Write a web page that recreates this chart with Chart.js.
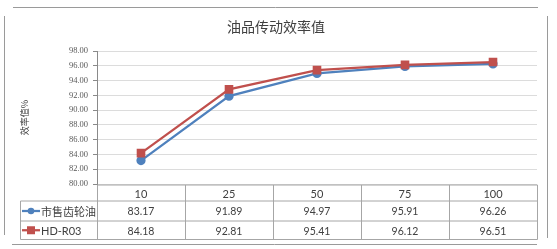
<!DOCTYPE html>
<html>
<head>
<meta charset="utf-8">
<script src="https://cdn.jsdelivr.net/npm/chart.js@4/dist/chart.umd.min.js"></script>
<style>
  html, body { margin: 0; padding: 0; background: #fff; }
  canvas { display: block; }
</style>
</head>
<body>
<canvas id="effChart" width="557" height="249"></canvas>
<script>
// chart data
var categories = ["10", "25", "50", "75", "100"];
var marketOil = [83.17, 91.89, 94.97, 95.91, 96.26];
var hdR03 = [84.18, 92.81, 95.41, 96.12, 96.51];
var seriesNames = ["市售齿轮油", "HD-R03"];
var titleText = "油品传动效率值";
var yTitle = "效率值%";

var blue = "#4F81BD";
var red = "#C0504D";
var cjk = "'Noto Sans CJK SC', 'Noto Sans', sans-serif";
var latin = "Lato, 'Open Sans', sans-serif";

// draws the frame, title and the data table under the plot
var tablePlugin = {
  id: "dataTable",
  afterDraw: function (chart) {
    var c = chart.ctx;
    var area = chart.chartArea;
    var xs = chart.scales.x;
    var colW = (area.right - area.left) / categories.length;
    var rows = [area.bottom + 1, 201, 221, 239.5];
    var legendLeft = 20.5;

    c.save();
    // outer frame pieces
    c.strokeStyle = "#9a9a9a";
    c.lineWidth = 1;
    c.beginPath();
    c.moveTo(13, 7.5); c.lineTo(538, 7.5);
    c.moveTo(4.5, 16); c.lineTo(4.5, 235);
    c.moveTo(547.5, 16); c.lineTo(547.5, 238);
    c.moveTo(12, 244.5); c.lineTo(537, 244.5);
    c.stroke();

    // title
    c.fillStyle = "#404040";
    c.font = "14px " + cjk;
    c.textAlign = "center";
    c.textBaseline = "middle";
    c.fillText(titleText, 276, 27);

    // table grid
    c.strokeStyle = "#a6a6a6";
    c.beginPath();
    c.moveTo(area.left + 0.5, rows[0]); c.lineTo(area.right + 0.5, rows[0]);
    for (var r = 1; r < rows.length; r++) {
      c.moveTo(legendLeft, rows[r]); c.lineTo(area.right + 0.5, rows[r]);
    }
    c.moveTo(legendLeft, rows[1]); c.lineTo(legendLeft, rows[3]);
    for (var k = 0; k <= categories.length; k++) {
      var gx = Math.round(area.left + k * colW) + 0.5;
      c.moveTo(gx, rows[0]); c.lineTo(gx, rows[3]);
    }
    c.stroke();

    // category labels and values
    c.fillStyle = "#404040";
    c.textAlign = "center";
    var series = [marketOil, hdR03];
    for (var i = 0; i < categories.length; i++) {
      var cx = xs.getPixelForValue(i);
      c.font = "11px " + latin;
      c.fillText(categories[i], cx, (rows[0] + rows[1]) / 2 + 1);
      c.font = "10.5px " + latin;
      for (var s = 0; s < series.length; s++) {
        c.fillText(series[s][i].toFixed(2), cx, (rows[s + 1] + rows[s + 2]) / 2 + 1);
      }
    }

    // legend keys in row headers
    var colors = [blue, red];
    for (var j = 0; j < 2; j++) {
      var cy = (rows[j + 1] + rows[j + 2]) / 2;
      c.strokeStyle = colors[j];
      c.fillStyle = colors[j];
      c.lineWidth = 2.25;
      c.beginPath();
      c.moveTo(22, cy); c.lineTo(40, cy);
      c.stroke();
      if (j === 0) {
        c.beginPath();
        c.arc(31, cy, 3.3, 0, Math.PI * 2);
        c.fill();
      } else {
        c.fillRect(27, cy - 4, 8, 8);
      }
      c.fillStyle = "#404040";
      c.textAlign = "left";
      c.font = (j === 0 ? "11px " + cjk : "11px " + latin);
      c.fillText(seriesNames[j], 41, cy + 1);
    }
    c.restore();
  }
};

new Chart(document.getElementById("effChart").getContext("2d"), {
  type: "line",
  data: {
    labels: categories,
    datasets: [
      {
        label: seriesNames[0],
        data: marketOil,
        borderColor: blue,
        backgroundColor: blue,
        borderWidth: 2.25,
        pointStyle: "circle",
        pointRadius: 3.5,
        pointHoverRadius: 3.5,
        order: 1
      },
      {
        label: seriesNames[1],
        data: hdR03,
        borderColor: red,
        backgroundColor: red,
        borderWidth: 2.25,
        pointStyle: "rect",
        pointRadius: 4.5,
        pointHoverRadius: 4.5,
        order: 0
      }
    ]
  },
  options: {
    responsive: false,
    animation: false,
    layout: { padding: { left: 0, right: 20, top: 51, bottom: 65 } },
    plugins: {
      legend: { display: false },
      title: { display: false },
      tooltip: { enabled: false }
    },
    scales: {
      x: {
        type: "category",
        offset: true,
        display: false
      },
      y: {
        min: 80,
        max: 98,
        afterFit: function (scale) { scale.width = 97; },
        ticks: {
          stepSize: 2,
          padding: 5,
          color: "#595959",
          font: { family: "'Liberation Serif', serif", size: 8.5 },
          callback: function (v) { return v.toFixed(2); }
        },
        grid: {
          color: "#dcdcdc",
          tickColor: "#8a8a8a",
          tickLength: 4
        },
        border: { color: "#8a8a8a" },
        title: {
          display: true,
          text: yTitle,
          color: "#404040",
          font: { family: cjk, size: 9 },
          padding: { top: 19, bottom: 0 }
        }
      }
    }
  },
  plugins: [tablePlugin]
});
</script>
</body>
</html>
